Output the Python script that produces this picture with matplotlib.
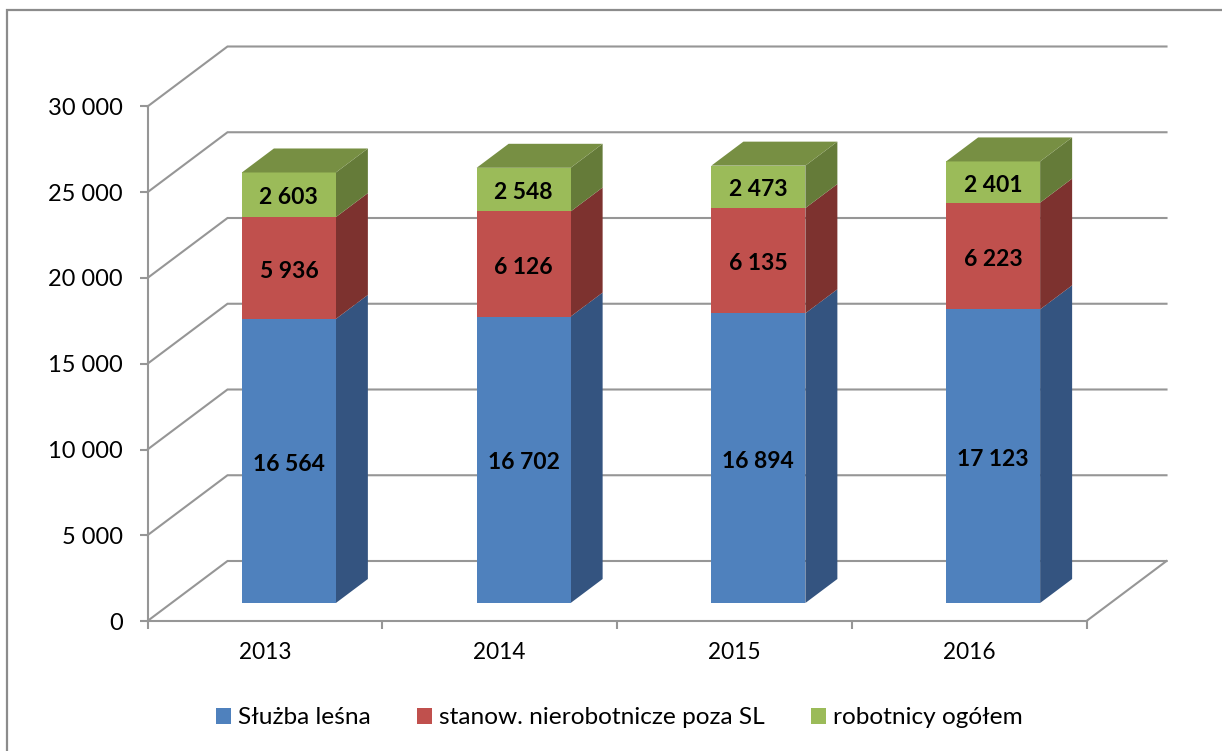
import numpy as np
import matplotlib
matplotlib.use('Agg')
import matplotlib.pyplot as plt

# ---------------------------------------------------------
# DATA
# ---------------------------------------------------------
years = ['2013', '2014', '2015', '2016']
sluzba = [16564, 16702, 16894, 17123]
stanow = [5936, 6126, 6135, 6223]
robotnicy = [2603, 2548, 2473, 2401]
series_names = ['Służba leśna', 'stanow. nierobotnicze poza SL', 'robotnicy ogółem']
y_ticks = [0, 5000, 10000, 15000, 20000, 25000, 30000]

front_cols = ['#4F81BD', '#C0504D', '#9BBB59']
side_cols = ['#345480', '#7D322F', '#657B39']
top_col = '#778F43'
grey = '#969696'

W, H = 1222, 751
plt.rcParams['font.family'] = ['Lato', 'DejaVu Sans']

fig = plt.figure(figsize=(W / 100, H / 100), dpi=100)

# front plane of the fake 3D box, in pixels
left, right, bottom, top = 147.5, 1086.5, 621, 106.5
ax = fig.add_axes([left / W, 1 - bottom / H, (right - left) / W, (bottom - top) / H])
ax.set_xlim(0, 4)
ax.set_ylim(0, 30000)
ax.patch.set_visible(False)

# depth of the box as data units
dx = 80 * 4 / (right - left)
dy = 60 * 30000 / (bottom - top)

# outer frame
frame = plt.Rectangle((7 / W, -0.1), 1.1, 1.1 - 9.5 / H, transform=fig.transFigure,
                      fill=False, ec='#8C8C8C', lw=1.6, clip_on=False)
fig.add_artist(frame)

# walls
for v in y_ticks:
    ax.plot([0, dx, 4 + dx], [v, v + dy, v + dy], color=grey, lw=1.5, clip_on=False, zorder=1,
            solid_joinstyle='miter')
ax.plot([4, 4 + dx], [0, dy], color=grey, lw=1.5, clip_on=False, zorder=1)

# bars
bar_w = 94 * 4 / (right - left)
d0, d1 = 0.3, 0.7
x_pos = np.arange(4) + 0.5
bases = np.zeros(4)
for vals, fc, sc in zip([sluzba, stanow, robotnicy], front_cols, side_cols):
    vals = np.array(vals)
    for i in range(4):
        xr = x_pos[i] + d0 * dx + bar_w / 2
        y0 = bases[i] + d0 * dy
        y1 = y0 + vals[i]
        ax.fill([xr, xr + (d1 - d0) * dx, xr + (d1 - d0) * dx, xr],
                [y0, y0 + (d1 - d0) * dy, y1 + (d1 - d0) * dy, y1],
                color=sc, lw=0, clip_on=False, zorder=3)
    ax.bar(x_pos + d0 * dx, vals, bar_w, bottom=bases + d0 * dy, color=fc, lw=0, zorder=4,
           clip_on=False)
    for i in range(4):
        lab = f'{vals[i]:,}'.replace(',', ' ')
        ax.annotate(lab, (x_pos[i] + d0 * dx, bases[i] + d0 * dy + vals[i] / 2),
                    xytext=(0, -2.2), textcoords='offset points', ha='center', va='center',
                    fontsize=16.5, fontweight='bold', color='black', zorder=6)
    bases = bases + vals

# top faces
for i in range(4):
    xl = x_pos[i] + d0 * dx - bar_w / 2
    xr = xl + bar_w
    y1 = bases[i] + d0 * dy
    sx, sy = (d1 - d0) * dx, (d1 - d0) * dy
    ax.fill([xl, xr, xr + sx, xl + sx], [y1, y1, y1 + sy, y1 + sy], color=top_col, lw=0,
            clip_on=False, zorder=5)

# axes
for s in ['top', 'right']:
    ax.spines[s].set_visible(False)
for s in ['left', 'bottom']:
    ax.spines[s].set_color(grey)
    ax.spines[s].set_linewidth(1.5)

ax.set_yticks(y_ticks)
ax.set_yticklabels([f'{v:,}'.replace(',', ' ') for v in y_ticks], va='center_baseline')
ax.set_xticks(np.arange(5))
ax.set_xticklabels([])
ax.set_xticks(x_pos, years, minor=True)
ax.tick_params(axis='y', which='major', color=grey, width=1.5, length=6, labelsize=17,
               labelcolor='black', pad=12)
ax.tick_params(axis='x', which='major', color=grey, width=1.5, length=6)
ax.tick_params(axis='x', which='minor', length=0, labelsize=16.3, labelcolor='black', pad=15)

handles = [plt.Rectangle((0, 0), 1, 1, color=c, lw=0) for c in front_cols]
fig.legend(handles, series_names, loc='center', bbox_to_anchor=(619.5 / W, 1 - 718 / H), ncols=3,
           frameon=False, fontsize=17.6, handlelength=0.62, handleheight=0.62, handletextpad=0.27,
           columnspacing=1.9)

fig.savefig('out.png', dpi=100)
